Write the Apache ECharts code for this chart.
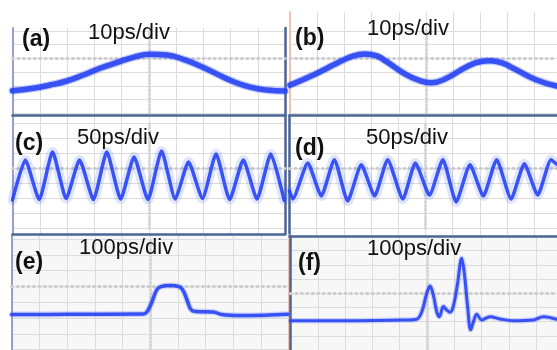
<!DOCTYPE html>
<html>
<head>
<meta charset="utf-8">
<script src="https://cdn.jsdelivr.net/npm/echarts@6/dist/echarts.min.js"></script>
<style>
  html, body { margin: 0; padding: 0; background: #ffffff; }
  #chart { width: 557px; height: 350px; }
</style>
</head>
<body>
<div id="chart"></div>
<script>
// Scope traces: x in horizontal divisions from the left edge of each screen,
// y in vertical divisions above the lowest horizontal grid line.
const traceA = [[0,1.64],[0.76,1.82],[1.38,2.06],[1.99,2.35],[2.6,2.79],[3.21,3.28],[3.82,3.69],[4.43,4.08],[5.05,4.3],[5.66,4.25],[6.27,3.93],[6.88,3.45],[7.49,2.87],[8.1,2.31],[8.72,1.9],[9.33,1.69],[10,1.62]];
const traceB = [[0,2.05],[0.86,2.79],[1.72,3.64],[2.33,4.18],[2.76,4.32],[3.19,4.18],[3.55,3.76],[4.29,2.79],[4.75,2.4],[5.2,2.22],[5.7,2.5],[6.5,3.39],[6.99,3.76],[7.35,3.83],[7.84,3.64],[8.21,3.28],[9.07,2.42],[9.8,1.99]];
const traceC = [[0,1.9],[0.47,4.57],[0.98,1.93],[1.47,5.1],[1.97,2.0],[2.46,4.57],[2.97,1.93],[3.46,5.1],[3.97,1.97],[4.46,4.77],[4.97,1.93],[5.47,5.17],[5.97,1.97],[6.46,4.43],[6.97,2.0],[7.47,4.97],[7.97,1.93],[8.47,4.57],[8.97,1.97],[9.48,4.97],[9.97,1.87]];
const traceD = [[0,2.5],[0.12,1.97],[0.67,4.37],[1.17,2.17],[1.65,4.59],[2.14,1.83],[2.64,4.25],[3.13,2.17],[3.61,4.59],[4.17,1.97],[4.63,4.37],[5.15,2.23],[5.64,4.59],[6.13,1.77],[6.64,4.25],[7.13,2.17],[7.62,4.59],[8.15,1.97],[8.64,4.32],[9.13,2.23],[9.62,4.59],[9.82,4.3]];
const traceE = [[0,2.22],[2.0,2.23],[4.74,2.25],[4.88,2.38],[5.06,3.01],[5.23,3.77],[5.39,3.99],[5.71,4.06],[6.04,3.99],[6.18,3.77],[6.33,3.14],[6.47,2.54],[6.65,2.41],[7.27,2.38],[7.59,2.22],[8.24,2.16],[9.14,2.18],[9.97,2.23]];
const traceF = [[0,2.07],[2.06,2.07],[4.26,2.12],[4.62,2.17],[4.81,2.7],[4.99,4.0],[5.11,4.51],[5.23,3.88],[5.36,2.66],[5.45,2.35],[5.6,3.06],[5.72,2.82],[5.84,2.66],[5.96,3.06],[6.11,4.58],[6.27,6.46],[6.36,5.52],[6.48,3.18],[6.6,1.42],[6.7,2.0],[6.82,2.52],[7.0,2.12],[7.31,2.35],[7.67,2.19],[8.16,2.07],[8.89,2.12],[9.26,2.35],[9.75,2.17]];

const panelTags = ['(a)', '(b)', '(c)', '(d)', '(e)', '(f)'];
const timeBases = ['10ps/div', '10ps/div', '50ps/div', '50ps/div', '100ps/div', '100ps/div'];

// ---- styling ----
const GRID_COLOR = '#dcdcdc';
const CENTER_TICK = '#cdcdcd';
const STEEL = '#4b6595';
const PALE = '#97a0c6';
const PINK = '#f1c3b2';
const TRACE = '#2743f4';

const panels = [
  { data: traceA, x0: 12.5, x1: 285, xMax: 10, fTop: 28, fBot: 115, pTop: 31, pBot: 113.2, divs: 6, bg: '#ffffff',
    borders: { left: PALE, right: STEEL }, halo: 8, haloAlpha: 0.3, core: 5.5, smooth: 0.5,
    hc: 58.4, vc: 148.75, tag: [22, 39.7], base: [88, 32.5] },
  { data: traceB, x0: 290, x1: 557, xMax: 9.82, fTop: 12, fBot: 115, pTop: 31, pBot: 113.2, divs: 6, bg: '#ffffff',
    borders: { left: PINK }, halo: 8, haloAlpha: 0.3, core: 5.5, smooth: 0.5,
    hc: 58.4, vc: 426, tag: [295, 39], base: [367, 28.7] },
  { data: traceC, x0: 12.5, x1: 285, xMax: 10, fTop: 115.5, fBot: 234, pTop: 123.5, pBot: 228.5, divs: 7, bg: '#ffffff',
    borders: { top: STEEL, bottom: STEEL, left: PALE, right: STEEL }, halo: 10, haloAlpha: 0.17, core: 3.5, smooth: 0.18,
    hc: 168.5, vc: 148.75, tag: [15, 144], base: [77, 138.3] },
  { data: traceD, x0: 289.5, x1: 557, xMax: 9.84, fTop: 115.5, fBot: 236, pTop: 123.5, pBot: 228.5, divs: 7, bg: '#ffffff',
    borders: { top: STEEL, bottom: STEEL, left: STEEL }, halo: 10, haloAlpha: 0.17, core: 3.5, smooth: 0.18,
    hc: 168.5, vc: 425.6, tag: [295, 148.8], base: [366, 138.3] },
  { data: traceE, x0: 11.7, x1: 288.7, xMax: 10, fTop: 235, fBot: 350, pTop: 239, pBot: 349.6, divs: 7, bg: '#f7f7f7',
    borders: { left: PALE, right: PINK }, halo: 6, haloAlpha: 0.25, core: 3.5, smooth: 0.4,
    hc: 286.4, vc: 150.2, tag: [15, 262.5], base: [79, 248.3] },
  { data: traceF, x0: 290.5, x1: 557, xMax: 9.76, fTop: 236, fBot: 350, pTop: 250.7, pBot: 350.1, divs: 7, bg: '#f7f7f7',
    borders: { left: STEEL }, halo: 5.5, haloAlpha: 0.25, core: 3, smooth: 0.35,
    hc: 293.3, vc: 427, tag: [298, 263.3], base: [367, 249.2] }
];

const grid = [], xAxis = [], yAxis = [], series = [], title = [];

function edge(color) {
  return color
    ? { show: true, onZero: false, lineStyle: { color: color, width: color === STEEL ? 2.5 : 2 } }
    : { show: false };
}
const noText = { axisLabel: { show: false }, axisTick: { show: false }, splitLine: { show: false } };
const hCenter = { show: true, onZero: false, lineStyle: { color: CENTER_TICK, width: 3, type: [1, 4.45] } };
const vCenter = { show: true, onZero: false, lineStyle: { color: '#d6d6d6', width: 3, type: [1, 2.7] } };

panels.forEach((p, i) => {
  const fg = grid.length;
  // screen frame: background, vertical grid lines and the edges
  grid.push({ left: p.x0, top: p.fTop, width: p.x1 - p.x0, height: p.fBot - p.fTop,
              show: true, backgroundColor: p.bg, borderWidth: 0 });
  xAxis.push({ type: 'value', gridIndex: fg, min: 0, max: p.xMax, interval: 1, position: 'bottom',
               axisLabel: { show: false }, axisTick: { show: false },
               splitLine: { show: true, lineStyle: { color: GRID_COLOR, width: 1 } },
               axisLine: edge(p.borders.bottom) });
  xAxis.push(Object.assign({ type: 'value', gridIndex: fg, min: 0, max: p.xMax, position: 'top',
               axisLine: edge(p.borders.top) }, noText));
  yAxis.push(Object.assign({ type: 'value', gridIndex: fg, min: 0, max: 1, position: 'left',
               axisLine: edge(p.borders.left) }, noText));
  yAxis.push(Object.assign({ type: 'value', gridIndex: fg, min: 0, max: 1, position: 'right',
               axisLine: edge(p.borders.right) }, noText));

  // plotting area: horizontal grid lines, graticule centre marks and the trace
  const pg = grid.length;
  grid.push({ left: p.x0, top: p.pTop, width: p.x1 - p.x0, height: p.pBot - p.pTop, show: false });
  const xi = xAxis.length, yi = yAxis.length;
  xAxis.push({ type: 'value', gridIndex: pg, min: 0, max: p.xMax, show: false });
  yAxis.push({ type: 'value', gridIndex: pg, min: 0, max: p.divs, interval: 1,
               axisLabel: { show: false }, axisTick: { show: false }, axisLine: { show: false },
               splitLine: { show: true, lineStyle: { color: GRID_COLOR, width: 1 } } });
  xAxis.push(Object.assign({ type: 'value', gridIndex: pg, min: 0, max: p.xMax, position: 'top',
               offset: -(p.hc - p.pTop), axisLine: hCenter }, noText));
  yAxis.push(Object.assign({ type: 'value', gridIndex: pg, min: 0, max: p.divs, position: 'right',
               offset: -(p.x1 - p.vc), axisLine: vCenter }, noText));

  series.push({ type: 'line', xAxisIndex: xi, yAxisIndex: yi, data: p.data, smooth: p.smooth,
                showSymbol: false, silent: true, z: 5,
                lineStyle: { color: 'rgba(70,100,255,' + p.haloAlpha + ')', width: p.halo, cap: 'round', join: 'round' } });
  series.push({ type: 'line', xAxisIndex: xi, yAxisIndex: yi, data: p.data, smooth: p.smooth,
                showSymbol: false, silent: true, z: 6,
                lineStyle: { color: TRACE, width: p.core, opacity: 0.9, cap: 'round', join: 'round' } });

  title.push({ text: panelTags[i], left: p.tag[0], top: p.tag[1] - 11.5, padding: 0,
               textStyle: { fontFamily: 'Liberation Sans', fontSize: 23, fontWeight: 'bold', color: '#111111', lineHeight: 23 } });
  title.push({ text: timeBases[i], left: p.base[0], top: p.base[1] - 11, padding: 0,
               textStyle: { fontFamily: 'Liberation Sans', fontSize: 22, fontWeight: 'normal', color: '#111111', lineHeight: 22 } });
});

const chart = echarts.init(document.getElementById('chart'), null, { renderer: 'canvas' });
chart.setOption({
  animation: false,
  backgroundColor: '#ffffff',
  title: title,
  grid: grid,
  xAxis: xAxis,
  yAxis: yAxis,
  series: series
});
</script>
</body>
</html>
